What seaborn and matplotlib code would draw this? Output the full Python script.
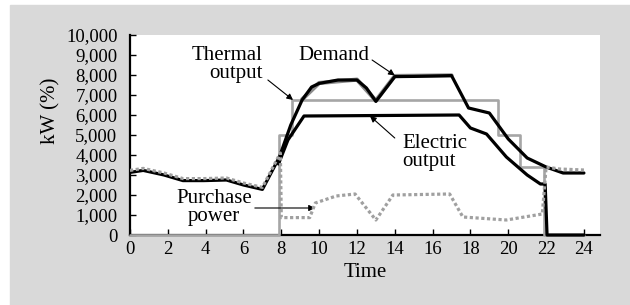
# -*- coding: utf-8 -*-
import matplotlib
matplotlib.use('Agg')
import matplotlib.pyplot as plt
from matplotlib.patches import Rectangle
from matplotlib.ticker import StrMethodFormatter
import seaborn as sns

# data (hours, kW)
demand_t = [0, 0.7, 1.8, 2.8, 3.9, 5.1, 6.0, 7.0, 7.9, 8.5, 9.1, 9.6, 10.0, 11.0,
            12.0, 12.5, 13.0, 14.0, 15.0, 16.0, 17.0, 17.9, 19.0, 20.0, 21.0,
            22.0, 22.9, 24.0]
demand_v = [3130, 3230, 3000, 2720, 2720, 2750, 2500, 2280, 3900, 5500, 6750,
            7400, 7580, 7750, 7750, 7350, 6680, 7920, 7930, 7950, 7970, 6350,
            6100, 4800, 3850, 3400, 3100, 3100]

shadow_t = [9.1, 10.0, 12.0, 13.0, 14.0, 17.0]
shadow_v = [6780, 7600, 7770, 6720, 7950, 7980]

electric_t = [7.85, 8.35, 9.2, 17.4, 18.0, 18.85, 19.9, 21.0, 21.7, 21.95,
              22.05, 24.0]
electric_v = [3550, 4750, 5950, 6000, 5350, 5050, 3900, 3000, 2550, 2550, 0, 0]

thermal_t = [0, 7.9, 7.9, 8.55, 8.55, 19.45, 19.45, 20.6, 20.6, 21.9, 21.9, 24]
thermal_v = [0, 0, 5000, 5000, 6750, 6750, 5000, 5000, 3400, 3400, 0, 0]

purchase_t = [0, 0.7, 1.8, 2.8, 3.9, 5.1, 6.0, 7.0, 7.95, 8.0, 9.5, 9.8, 10.9,
              11.9, 13.0, 13.9, 16.9, 17.6, 19.9, 21.8, 22.0, 22.7, 24.0]
purchase_v = [3230, 3330, 3100, 2820, 2820, 2850, 2600, 2380, 4100, 870, 870,
              1600, 1950, 2050, 750, 2000, 2050, 900, 750, 1050, 3400, 3300,
              3250]

x_ticks = list(range(0, 25, 2))
y_ticks = list(range(0, 10001, 1000))

sns.set_theme(style='ticks')
plt.rcParams['font.family'] = ['Liberation Serif', 'DejaVu Serif']

fig = plt.figure(figsize=(6.3, 3.05), dpi=100, facecolor='white')
fig.patches.append(Rectangle((10 / 630, 0), 620 / 630, 300 / 305,
                             transform=fig.transFigure, color='#d9d9d9',
                             zorder=-1))
ax = fig.add_axes([130 / 630, 1 - 235 / 305, 470 / 630, 200 / 305])
ax.set_facecolor('white')

line_kw = dict(estimator=None, sort=False, legend=False, ax=ax)
sns.lineplot(x=thermal_t, y=thermal_v, color='#a6a6a6', lw=1.9,
             zorder=2.6, clip_on=False, **line_kw)
sns.lineplot(x=shadow_t, y=shadow_v, color='#8c8c8c', lw=3.0, zorder=2.8,
             **line_kw)
sns.lineplot(x=demand_t, y=demand_v, color='black', lw=2.3, zorder=3,
             **line_kw)
sns.lineplot(x=electric_t, y=electric_v, color='black', lw=2.3, zorder=3,
             clip_on=False, **line_kw)
sns.lineplot(x=purchase_t, y=purchase_v, color='#a0a0a0', lw=2.3,
             linestyle=(0, (1, 0.8)), zorder=3.5, **line_kw)

ax.set_xlim(0, 24.85)
ax.set_ylim(0, 10000)
ax.set_xticks(x_ticks)
ax.set_yticks(y_ticks)
ax.yaxis.set_major_formatter(StrMethodFormatter('{x:,.0f}'))
ax.tick_params(axis='both', direction='in', length=4.5, width=1,
               color='black', labelsize=13.5, labelcolor='black')
ax.tick_params(axis='y', pad=9)
ax.tick_params(axis='x', pad=4)
for side in ['top', 'right']:
    ax.spines[side].set_visible(False)
for side in ['left', 'bottom']:
    ax.spines[side].set_color('black')
    ax.spines[side].set_linewidth(1.6)

ax.set_xlabel('Time', fontsize=15, color='black')
ax.set_ylabel('kW (%)', fontsize=15, color='black')
ax.yaxis.set_label_coords(-0.148, 0.62)
ax.xaxis.set_label_coords(0.5, -0.14)

txt = dict(fontsize=15, color='black', linespacing=0.95, va='top')
arrow = dict(arrowstyle='-|>', color='black', lw=0.8, mutation_scale=9,
             shrinkA=0, shrinkB=0)
ax.text(7.03, 9450, 'Thermal\noutput', ha='right', multialignment='right', **txt)
ax.annotate('', xy=(8.62, 6750), xytext=(7.29, 7750), arrowprops=arrow)
ax.text(8.88, 9450, 'Demand', ha='left', **txt)
ax.annotate('', xy=(14.0, 7980), xytext=(12.8, 8750), arrowprops=arrow)
ax.text(14.38, 5050, 'Electric\noutput', ha='left', multialignment='left', **txt)
ax.annotate('', xy=(12.69, 5950), xytext=(14.0, 4850), arrowprops=arrow)
ax.text(6.45, 2300, 'Purchase\npower', ha='right', multialignment='center', **txt)
ax.annotate('', xy=(9.78, 1350), xytext=(6.6, 1350), arrowprops=arrow)

fig.savefig('out.png', dpi=100, facecolor=fig.get_facecolor())
plt.close('all')
